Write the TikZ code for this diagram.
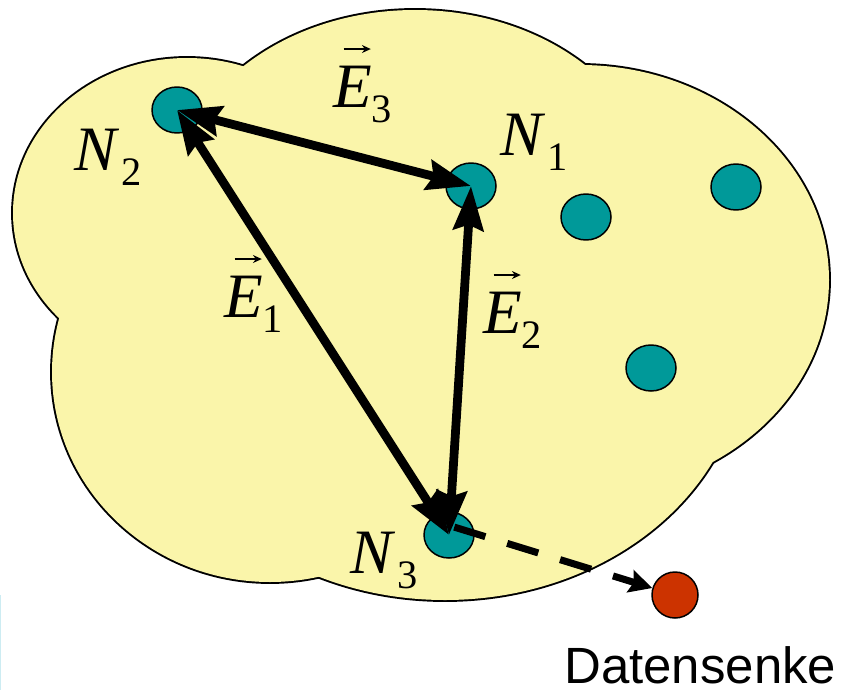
\documentclass[tikz,border=0pt]{standalone}
\usepackage{fontspec}
\setmainfont{Liberation Serif}
\newfontfamily\sansfont{Liberation Sans}
\usetikzlibrary{arrows.meta,shapes.geometric}
\definecolor{cloudfill}{RGB}{250,245,170}
\definecolor{nodeteal}{RGB}{0,153,153}
\definecolor{sinkred}{RGB}{204,51,0}
\definecolor{edgeblue}{RGB}{205,236,242}
\newcommand\subsc[1]{\raisebox{-9pt}{\fontsize{23}{23}\selectfont #1}}
\newcommand\labN[1]{{\fontsize{36}{36}\selectfont\itshape N}\hspace{3pt}\subsc{#1}}
\newcommand\labE[1]{{\fontsize{36}{36}\selectfont\itshape E}\subsc{#1}}
\begin{document}
\begin{tikzpicture}[x=0.02cm,y=-0.02cm,
  dot/.style={ellipse,draw,line width=0.85pt,fill=nodeteal,minimum width=1cm,minimum height=0.92cm,inner sep=0pt},
  sinkdot/.style={dot,fill=sinkred,minimum width=0.92cm,minimum height=0.92cm},
  vecarrow/.style={line width=5pt,>={Stealth[length=25pt,width=17pt,inset=3pt]},<->},
  dasharrow/.style={line width=4pt,dash pattern=on 18.5pt off 13pt,-{Stealth[length=13pt,width=13pt,inset=2pt]}},
  accent/.style={line width=1pt,-{Stealth[length=5pt,width=4.5pt]}},
  lbl/.style={inner sep=0pt,anchor=base west}]
\useasboundingbox (0,0) rectangle (852,690);
% cloud: union of five ellipses (outline = outer half of the stroke)
\foreach \cx/\cy/\rx/\ry in {187/213/174/155,415/200/241.6/190,580/280/249/215,445/348/300/252,270/372/218/210}
  \draw[line width=2.2pt] (\cx,\cy) ellipse [x radius=\rx, y radius=\ry];
\foreach \cx/\cy/\rx/\ry in {187/213/174/155,415/200/241.6/190,580/280/249/215,445/348/300/252,270/372/218/210}
  \fill[cloudfill] (\cx,\cy) ellipse [x radius=\rx, y radius=\ry];
% thin light blue edge at bottom left
\fill[edgeblue] (0,595) rectangle (1.5,690);
% nodes
\node[dot] (n2) at (177,110) {};
\node[dot] (n1) at (471,186) {};
\node[dot] (s1) at (586,217) {};
\node[dot] (s2) at (736,187) {};
\node[dot] (s3) at (651,368) {};
\node[dot] (n3) at (449,535) {};
\node[sinkdot] (sink) at (675,595) {};
% connectors
\draw[vecarrow] (n2.center) -- (n1.center);
\draw[vecarrow] (n2.center) -- (n3.center);
\draw[vecarrow] (n1.center) -- (n3.center);
\draw[dasharrow] ([xshift=3pt,yshift=4.5pt]n3.center) -- (sink);
% labels
\node[lbl] (ln2) at (73.7,170) {\labN{2}};
\node[lbl] (ln1) at (499.7,155) {\labN{1}};
\node[lbl] (ln3) at (349.7,573) {\labN{3}};
\node[lbl] (le3) at (333,107) {\labE{3}};
\node[lbl] (le1) at (224,317) {\labE{1}};
\node[lbl] (le2) at (483,333) {\labE{2}};
\node[lbl] (sinklbl) at (564,683) {\sansfont\fontsize{29}{29}\selectfont Datensenke};
% vector accents over the E labels
\foreach \e in {le3,le1,le2}
  \draw[accent] ([xshift=6pt,yshift=33pt]\e.base west) -- ++(15.5pt,0);
\end{tikzpicture}
\end{document}
